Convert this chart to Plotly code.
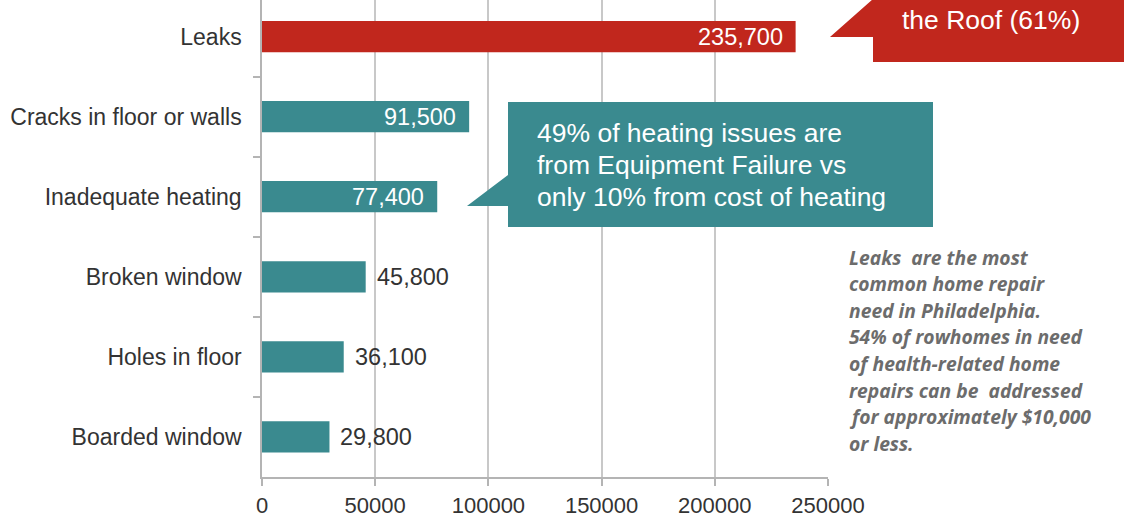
import plotly.graph_objects as go

# Home repair needs in Philadelphia (number of homes)
categories = ["Leaks", "Cracks in floor or walls", "Inadequate heating",
              "Broken window", "Holes in floor", "Boarded window"]
counts = [235700, 91500, 77400, 45800, 36100, 29800]
x_ticks = [0, 50000, 100000, 150000, 200000, 250000]

RED = "#c1271d"
TEAL = "#3a8a8f"
bar_colors = [RED] + [TEAL] * (len(categories) - 1)
inside_label = [True, True, True, False, False, False]

heating_note = [
    "49% of heating issues are",
    "from Equipment Failure vs",
    "only 10% from cost of heating",
]
side_note = [
    "Leaks  are the most",
    "common home repair",
    "need in Philadelphia.",
    "54% of rowhomes in need",
    "of health-related home",
    "repairs can be  addressed",
    "for approximately $10,000",
    "or less.",
]

W, H = 1124, 518
L, R, T, B = 262, 828, 0, 477  # plot area in pixels
SANS = "Liberation Sans, Arial, sans-serif"


def px(x):
    return (x - L) / (R - L)


def py(y):
    return (B - y) / (B - T)


def path(points):
    return "M " + " L ".join(f"{px(x):.5f},{py(y):.5f}" for x, y in points) + " Z"


fig = go.Figure()
fig.add_trace(go.Bar(
    x=counts, y=categories, orientation="h",
    marker=dict(color=bar_colors, line=dict(width=0)),
    width=0.39, hoverinfo="skip",
))

# value labels
for cat, v, inside in zip(categories, counts, inside_label):
    fig.add_annotation(
        x=v, y=cat, xref="x", yref="y", text=f"{v:,}", showarrow=False,
        xanchor="right" if inside else "left", xshift=-11 if inside else 9,
        font=dict(family=SANS, size=23.5,
                  color="white" if inside else "#333333"),
    )

# callout boxes
fig.add_shape(type="path", xref="paper", yref="paper", layer="above",
              path=path([(873, -80), (1140, -80), (1140, 62), (873, 62),
                         (873, 37), (830, 37), (873, -1)]),
              fillcolor=RED, line=dict(width=0))
fig.add_shape(type="path", xref="paper", yref="paper", layer="above",
              path=path([(508, 102), (933, 102), (933, 227), (508, 227),
                         (508, 206), (467, 206), (508, 175)]),
              fillcolor=TEAL, line=dict(width=0))

fig.add_annotation(x=px(991), y=py(20), xref="paper", yref="paper",
                   text="the Roof (61%)", showarrow=False,
                   xanchor="center", yanchor="middle",
                   font=dict(family=SANS, size=26.5, color="white"))
for i, line in enumerate(heating_note):
    fig.add_annotation(x=px(535), y=py(133 + i * 32), xref="paper", yref="paper",
                       text=line, showarrow=False, xanchor="left", yanchor="middle",
                       font=dict(family=SANS, size=26.5, color="white"))

# side note
for i, line in enumerate(side_note):
    fig.add_annotation(x=px(847), y=py(257 + i * 26.6), xref="paper", yref="paper",
                       text=f"<b><i>{line}</i></b>", showarrow=False,
                       xanchor="left", yanchor="middle",
                       font=dict(family="Open Sans, sans-serif",
                                 size=19.3, color="#6c6c6c"))

n = len(categories)
fig.update_layout(
    width=W, height=H,
    margin=dict(l=L, r=W - R, t=T, b=H - B, pad=0, autoexpand=False),
    paper_bgcolor="white", plot_bgcolor="white",
    showlegend=False,
    xaxis=dict(
        automargin=False,
        range=[0, 250000], tickvals=x_ticks,
        tickformat="d",
        showgrid=True, gridcolor="#c8c8c8", gridwidth=1.5,
        zeroline=False,
        showline=True, linecolor="#b4b4b4", linewidth=1.5,
        ticks="outside", ticklen=7, tickcolor="#b4b4b4", tickwidth=1.5,
        ticklabelstandoff=1,
        tickfont=dict(family=SANS, size=22, color="#333333"),
    ),
    yaxis=dict(
        automargin=False,
        type="category", categoryorder="array", categoryarray=categories,
        range=[n - 0.5, -0.5 + 3.5 / 80],
        tickson="boundaries",
        showgrid=False, zeroline=False,
        showline=True, linecolor="#b4b4b4", linewidth=1.5,
        ticks="outside", ticklen=7, tickcolor="#b4b4b4", tickwidth=1.5,
        ticklabelstandoff=14,
        tickfont=dict(family=SANS, size=23, color="#333333"),
    ),
)

fig.write_html("out.html")
